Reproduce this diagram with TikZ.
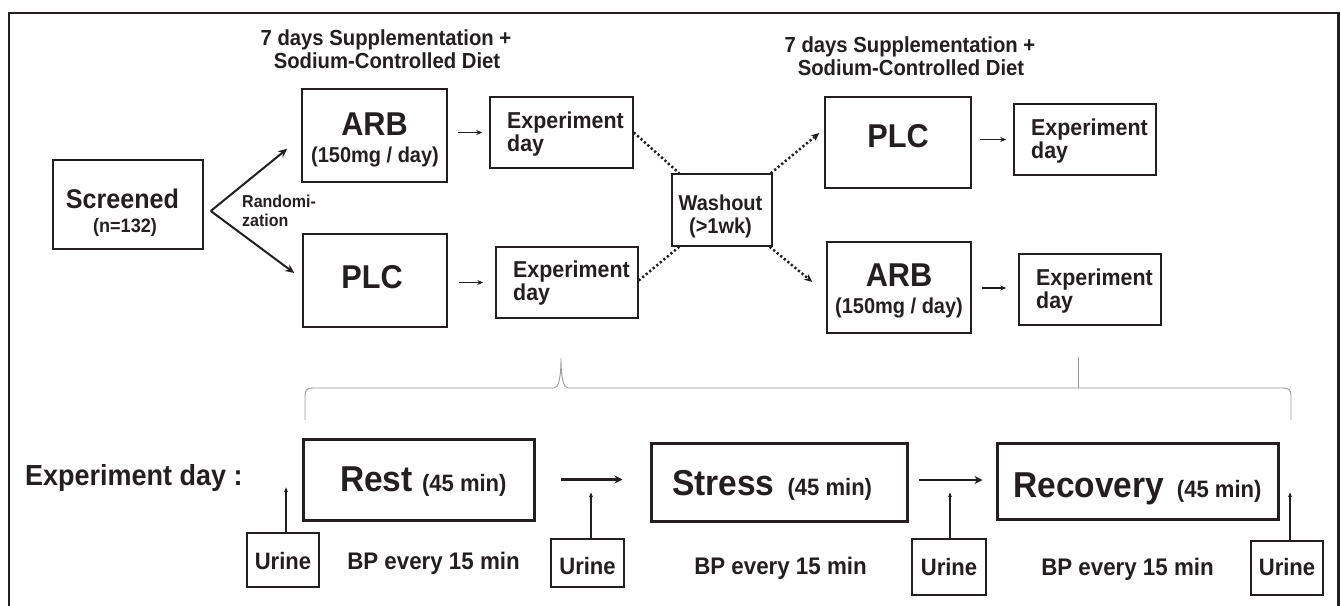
\documentclass[tikz,border=0pt]{standalone}
\usepackage{fontspec}
\setmainfont{Liberation Sans}[FakeStretch=0.93]
\usetikzlibrary{arrows.meta,calc}
\definecolor{ink}{HTML}{231F20}
\newcommand\myfs[1]{\fontsize{#1}{#1}\selectfont}
\begin{document}
\begin{tikzpicture}[x=1pt,y=-1pt,
  box/.style={draw=ink,line width=1.5pt,inner sep=0pt},
  thickbox/.style={draw=ink,line width=3pt,inner sep=0pt},
  ubox/.style={draw=ink,line width=1.3pt,inner sep=0pt},
  txt/.style={inner sep=0pt,text=ink,font=\bfseries,anchor=base},
  ltxt/.style={inner sep=0pt,text=ink,font=\bfseries,anchor=base west},
  dotline/.style={draw=ink,line width=2.5pt,dash pattern=on 2.2pt off 2.4pt},
  dottip/.style={-{Stealth[length=8pt,width=7pt]}},
  randarrow/.style={draw=ink,line width=2pt,-{Stealth[length=9pt,width=8pt]}},
  smallarrow/.style={draw=ink,line width=1.9pt,-{Stealth[length=6pt,width=5pt]}},
  bigarrow/.style={draw=ink,line width=2.6pt,-{Stealth[length=8pt,width=8pt]}},
  uparrow/.style={draw=ink,line width=1.1pt,-{Stealth[length=5pt,width=4pt]}},
  bracel/.style={draw=black!40,line width=0.9pt}]
\useasboundingbox (0,0) rectangle (1341,605);
% frame
\draw[ink,line width=2.5pt] (9,606) -- (9,13) -- (1338.5,13) -- (1338.5,606);

% titles
\node[txt] (t1a) at (386,45) {\myfs{21.8}7 days Supplementation +};
\node[txt] (t1b) at (387,68) {\myfs{21.8}Sodium-Controlled Diet};
\node[txt] (t2a) at (910,52) {\myfs{21.8}7 days Supplementation +};
\node[txt] (t2b) at (911,75) {\myfs{21.8}Sodium-Controlled Diet};

% screened
\node[box,minimum width=150pt,minimum height=89pt] (scr) at (128,204.5) {};
\node[txt] (scrt) at (122.5,208) {\myfs{27}Screened};
\node[txt] (scrn) at (125,232) {\myfs{19.4}(n=132)};
\node[ltxt] (rand1) at (242,207) {\myfs{17.2}Randomi-};
\node[ltxt] (rand2) at (242,226) {\myfs{17.2}zation};

% first period
\node[box,minimum width=145pt,minimum height=93pt] (arb1) at (374.5,135.5) {};
\node[txt] (arb1t) at (374.5,135) {\myfs{33}ARB};
\node[txt] (arb1d) at (375,162) {\myfs{21.5}(150mg / day)};
\node[box,minimum width=144pt,minimum height=93pt] (plc1) at (375,280.5) {};
\node[txt] (plc1t) at (372,288) {\myfs{33}PLC};

\node[box,minimum width=143pt,minimum height=71pt] (exp1) at (561.5,132.5) {};
\node[ltxt] (exp1a) at (507,128) {\myfs{23}Experiment};
\node[ltxt] (exp1b) at (507,151) {\myfs{23}day};
\node[box,minimum width=142pt,minimum height=71pt] (exp2) at (567,282.5) {};
\node[ltxt] (exp2a) at (513,277) {\myfs{23}Experiment};
\node[ltxt] (exp2b) at (513,300) {\myfs{23}day};

% washout
\node[box,minimum width=100pt,minimum height=72pt] (wash) at (722,210) {};
\node[txt] (washa) at (720.5,210) {\myfs{21.5}Washout};
\node[txt] (washb) at (720.5,233) {\myfs{21.5}(>1wk)};

% second period
\node[box,minimum width=146pt,minimum height=91pt] (plc2) at (898,142.5) {};
\node[txt] (plc2t) at (898,147) {\myfs{33}PLC};
\node[box,minimum width=142pt,minimum height=71pt] (exp3) at (1085,139.5) {};
\node[ltxt] (exp3a) at (1031,135) {\myfs{23}Experiment};
\node[ltxt] (exp3b) at (1031,158) {\myfs{23}day};
\node[box,minimum width=144pt,minimum height=91pt] (arb2) at (899,287.5) {};
\node[txt] (arb2t) at (899,286) {\myfs{33}ARB};
\node[txt] (arb2d) at (899,313) {\myfs{21.5}(150mg / day)};
\node[box,minimum width=142pt,minimum height=71pt] (exp4) at (1090,289.5) {};
\node[ltxt] (exp4a) at (1036,285) {\myfs{23}Experiment};
\node[ltxt] (exp4b) at (1036,308) {\myfs{23}day};

% randomization arrows
\coordinate (apex) at ([shift={(7,6.5)}]scr.east);
\draw[randarrow] (apex) -- ($(arb1.south west)+(-14,-34)$);
\draw[randarrow] (apex) -- ($(plc1.west)+(-8,-7.5)$);

% small arrows
\draw[smallarrow] ([xshift=-31pt]exp1.west) -- ([xshift=-7pt]exp1.west);
\draw[smallarrow] ([xshift=-36pt]exp2.west) -- ([xshift=-12pt]exp2.west);
\draw[smallarrow] ([xshift=-33pt]exp3.west) -- ([xshift=-7pt]exp3.west);
\draw[smallarrow] ([xshift=-36pt,yshift=1.5pt]exp4.west) -- ([xshift=-12pt,yshift=1.5pt]exp4.west);

% dotted connectors
\draw[dotline] (exp1.east) -- ([xshift=8pt]wash.north west);
\draw[dotline] ([yshift=2pt]exp2.east) -- ([xshift=8pt]wash.south west);
\draw[dotline,dottip] ([xshift=-2pt]wash.north east) -- ($(plc2.west)+(-5,-9.5)$);
\draw[dotline,dottip] ([xshift=-3pt]wash.south east) -- ($(arb2.west)+(-14,-5.5)$);

% brace
\draw[bracel] (305,420) -- (305,396) .. controls (305,390) and (307,388) .. (313,388)
  -- (554,388) .. controls (558,388) and (561,380) .. (561,358)
  .. controls (561,380) and (564,388) .. (568,388)
  -- (1283,388) .. controls (1289,388) and (1291,390) .. (1291,396) -- (1291,420);
\draw[bracel] (1078,357) -- (1078,388);

% experiment day
\node[ltxt] (expday) at (25,485) {\myfs{29}Experiment day :};
\node[thickbox,minimum width=231pt,minimum height=81pt] (rest) at (418.5,479.5) {};
\node[ltxt] (restt) at (340,491) {\myfs{36}Rest \myfs{23.7}(45 min)};
\node[thickbox,minimum width=256pt,minimum height=78pt] (stress) at (779,482) {};
\node[ltxt] (stresst) at (672,495) {\myfs{36}Stress\hspace{13pt}\myfs{23.7}(45 min)};
\node[thickbox,minimum width=281pt,minimum height=76pt] (recov) at (1137.5,481) {};
\node[ltxt] (recovt) at (1013,497) {\myfs{36}Recovery\hspace{13pt}\myfs{23.7}(45 min)};

\draw[bigarrow] ([xshift=25pt]rest.east) -- ([xshift=-27pt]rest.east -| stress.west);
\draw[bigarrow] ([xshift=10pt,yshift=2pt]stress.east) -- ([xshift=-13pt,yshift=2pt]stress.east -| recov.west);

% urine
\node[ubox,minimum width=72pt,minimum height=54pt] (u1) at (283,560) {};
\node[txt] (u1t) at (283,569) {\myfs{23.7}Urine};
\node[ubox,minimum width=73pt,minimum height=48pt] (u2) at (587.5,563) {};
\node[txt] (u2t) at (587.5,574) {\myfs{23.7}Urine};
\node[ubox,minimum width=74pt,minimum height=56pt] (u3) at (949,567) {};
\node[txt] (u3t) at (949,575) {\myfs{23.7}Urine};
\node[ubox,minimum width=72pt,minimum height=54pt] (u4) at (1287,568) {};
\node[txt] (u4t) at (1287,575) {\myfs{23.7}Urine};

\draw[uparrow] ([xshift=3pt]u1.north) -- ++(0,-45);
\draw[uparrow] ([xshift=3.5pt]u2.north) -- ++(0,-46);
\draw[uparrow] ([xshift=1pt]u3.north) -- ++(0,-46);
\draw[uparrow] ([xshift=3pt]u4.north) -- ++(0,-48);

\node[txt] (bp1) at (433.5,569) {\myfs{24}BP every 15 min};
\node[txt] (bp2) at (780.5,574) {\myfs{24}BP every 15 min};
\node[txt] (bp3) at (1127.5,575) {\myfs{24}BP every 15 min};
\end{tikzpicture}
\end{document}
